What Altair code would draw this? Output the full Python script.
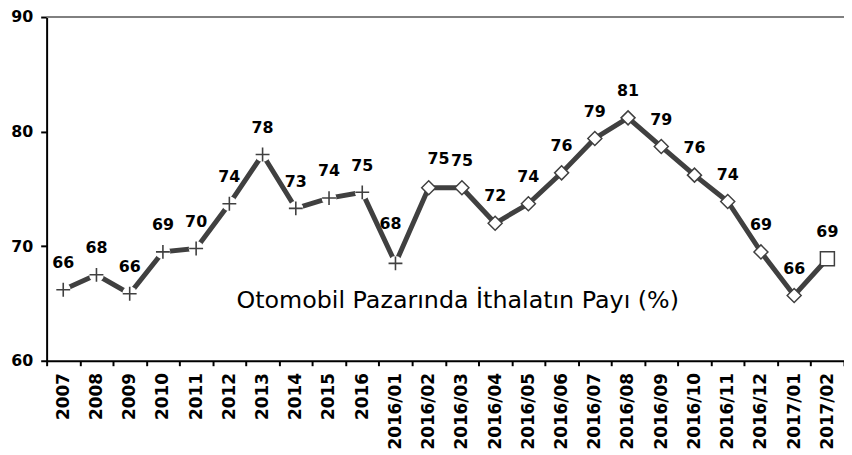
import altair as alt
import pandas as pd

categories = ["2007", "2008", "2009", "2010", "2011", "2012", "2013", "2014", "2015", "2016",
              "2016/01", "2016/02", "2016/03", "2016/04", "2016/05", "2016/06", "2016/07",
              "2016/08", "2016/09", "2016/10", "2016/11", "2016/12", "2017/01", "2017/02"]
values = [66.2, 67.5, 65.85, 69.5, 69.8, 73.7, 78.0, 73.3, 74.2, 74.7,
          68.5, 75.1, 75.1, 72.0, 73.7, 76.4, 79.4, 81.2, 78.7, 76.2,
          73.9, 69.5, 65.7, 68.9]
labels = ["66", "68", "66", "69", "70", "74", "78", "73", "74", "75",
          "68", "75", "75", "72", "74", "76", "79", "81", "79", "76",
          "74", "69", "66", "69"]
markers = ["plus"] * 11 + ["diamond"] * 12 + ["square"]
annotation = "Otomobil Pazarında İthalatın Payı (%)"

df = pd.DataFrame({"cat": categories, "val": values, "lab": labels, "mk": markers})

DARK = "#404040"
FONT = "DejaVu Sans"

x = alt.X("cat:N", sort=categories, title=None,
          scale=alt.Scale(paddingInner=0, paddingOuter=0),
          axis=alt.Axis(labelAngle=270, labelFont=FONT, labelFontWeight="bold",
                        labelFontSize=17, labelColor="black", labelPadding=7,
                        domainColor="black", domainWidth=2, tickColor="black",
                        tickWidth=2, tickSize=5, tickBand="extent", grid=False))
y = alt.Y("val:Q", title=None,
          scale=alt.Scale(domain=[60, 90], nice=False, zero=False),
          axis=alt.Axis(values=[60, 70, 80, 90], labelFont=FONT, labelFontWeight="bold",
                        labelFontSize=16, labelColor="black", labelPadding=8,
                        domainColor="black", domainWidth=2, tickColor="black",
                        tickWidth=2, tickSize=6, grid=False))

base = alt.Chart(df).encode(x=x, y=y)

top_rule = alt.Chart(pd.DataFrame({"v": [90]})).mark_rule(color="#808080", strokeWidth=2).encode(
    y=alt.Y("v:Q", scale=alt.Scale(domain=[60, 90], nice=False, zero=False)))

line = base.mark_line(color=DARK, strokeWidth=5)

plus_bg = base.transform_filter(alt.datum.mk == "plus").mark_point(
    shape="circle", filled=True, color="white", opacity=1, size=220)
plus = base.transform_filter(alt.datum.mk == "plus").mark_point(
    shape="M-1,0H1M0,-1V1", filled=False, color=DARK, strokeWidth=1.6, size=196, opacity=1)
diamond = base.transform_filter(alt.datum.mk == "diamond").mark_point(
    shape="diamond", filled=True, fill="white", stroke=DARK, strokeWidth=1.5, size=200, opacity=1)
square = base.transform_filter(alt.datum.mk == "square").mark_point(
    shape="square", filled=True, fill="white", stroke=DARK, strokeWidth=1.5, size=200, opacity=1)

txt_kw = dict(font=FONT, fontWeight="bold", fontSize=16, color="black", baseline="middle")
labs_main = base.transform_filter(
    (alt.datum.cat != "2016/01") & (alt.datum.cat != "2016/02")
).mark_text(dy=-27, **txt_kw).encode(text="lab:N")
lab_jan = base.transform_filter(alt.datum.cat == "2016/01").mark_text(
    dy=-40, dx=-5, **txt_kw).encode(text="lab:N")
lab_feb = base.transform_filter(alt.datum.cat == "2016/02").mark_text(
    dy=-29, dx=10, **txt_kw).encode(text="lab:N")

note = alt.Chart(pd.DataFrame({"t": [annotation]})).mark_text(
    font=FONT, fontSize=24, color="black", align="center", baseline="middle").encode(
    x=alt.value(415), y=alt.value(287), text="t:N")

chart = alt.layer(top_rule, line, plus_bg, plus, diamond, square,
                  labs_main, lab_jan, lab_feb, note).properties(
    width=805, height=347,
    padding={"left": 39, "top": 7, "right": 0, "bottom": 90},
    autosize=alt.AutoSizeParams(type="none"),
).configure_view(stroke=None).configure(background="white")

chart.save("out.html", embed_options={"renderer": "svg", "actions": False})
